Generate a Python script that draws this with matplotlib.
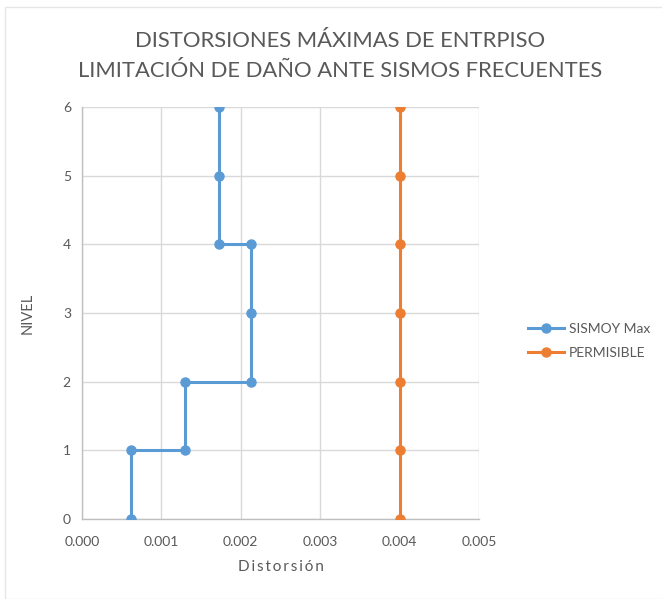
import matplotlib.pyplot as plt

# data
niveles = [0, 1, 1, 2, 2, 3, 4, 4, 5, 6]
sismoy_max = [0.00062, 0.00062, 0.0013, 0.0013, 0.00213, 0.00213, 0.00213, 0.00172, 0.00172, 0.00172]
niveles_perm = [0, 1, 2, 3, 4, 5, 6]
permisible = [0.004, 0.004, 0.004, 0.004, 0.004, 0.004, 0.004]

x_ticks = [0.000, 0.001, 0.002, 0.003, 0.004, 0.005]
y_ticks = [0, 1, 2, 3, 4, 5, 6]

GRAY = "#595959"
BLUE = "#5B9BD5"
ORANGE = "#ED7D31"

plt.rcParams['font.family'] = ['Lato', 'DejaVu Sans']

fig = plt.figure(figsize=(6.62, 5.99), dpi=100)
ax = fig.add_axes([82/662, 1 - 519/599, (479 - 82)/662, (519 - 107)/599])

ax.plot(sismoy_max, niveles, color=BLUE, lw=2.2, marker="o", ms=6.5,
        label="SISMOY Max", zorder=3)
ax.plot(permisible, niveles_perm, color=ORANGE, lw=2.2, marker="o", ms=6.5,
        label="PERMISIBLE", zorder=3)

ax.set_xlim(0, 0.005)
ax.set_ylim(0, 6)
ax.set_xticks(x_ticks)
ax.set_xticklabels(["%.3f" % v for v in x_ticks])
ax.set_yticks(y_ticks)
ax.grid(True, color="#d9d9d9", lw=1)
ax.set_axisbelow(True)
for s in ["top", "right"]:
    ax.spines[s].set_visible(False)
for s in ["left", "bottom"]:
    ax.spines[s].set_color("#bfbfbf")
    ax.spines[s].set_linewidth(1)
ax.tick_params(length=0, colors=GRAY, labelsize=10, pad=8)
ax.tick_params(axis="x", pad=12)
for lab in ax.get_xticklabels() + ax.get_yticklabels():
    lab.set_clip_on(False)

ax.set_xlabel("\u2009".join("Distorsión"), color=GRAY, fontsize=11, labelpad=9)
ax.set_ylabel("NIVEL", color=GRAY, fontsize=10.5, labelpad=20)

fig.text(340/662, 1 - 56/599,
         "DISTORSIONES MÁXIMAS DE ENTRPISO\nLIMITACIÓN DE DAÑO ANTE SISMOS FRECUENTES",
         ha="center", va="center", fontsize=15.8, color=GRAY, linespacing=1.65)

leg = fig.legend(loc="center left", bbox_to_anchor=(522/662, 1 - 341/599),
                 frameon=False, fontsize=10, handlelength=2.6, labelspacing=0.9,
                 handletextpad=0.4, borderaxespad=0)
for t in leg.get_texts():
    t.set_color(GRAY)

# light chart border
fig.patches.append(plt.Rectangle((5/662, 0.0), 1, 1 - 7/599, transform=fig.transFigure,
                                 fill=False, edgecolor="#e6e6e6", lw=1))

fig.savefig("out.png", dpi=100)
